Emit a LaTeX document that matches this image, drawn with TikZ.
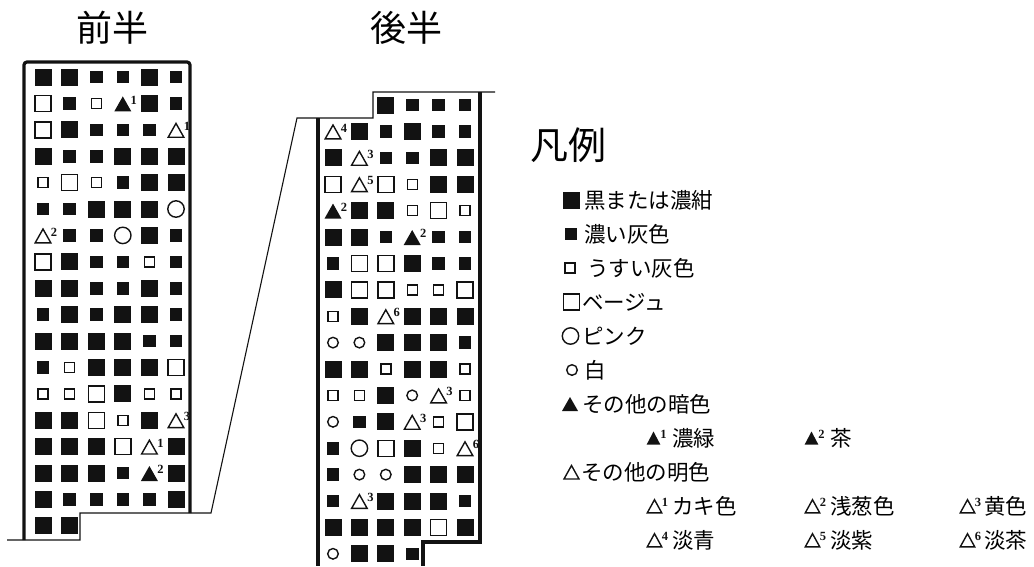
\documentclass[tikz,border=0pt]{standalone}
\usepackage{fontspec}
\setmainfont{Liberation Serif}
\newfontfamily\jpfont{Noto Sans CJK JP}
\definecolor{ink}{gray}{0.07}
\tikzset{
  heavy/.style={draw=ink, line width=3.2pt},
  fine/.style={draw=ink, line width=1.1pt},
  openmark/.style={draw=ink, line width=1.4pt},
  head/.style={font=\jpfont\fontsize{36}{36}\selectfont, inner sep=0pt},
  legtext/.style={font=\jpfont\fontsize{21.5}{22}\selectfont, anchor=west, inner sep=0pt},
  supnum/.style={font=\fontsize{12.5}{13}\selectfont\bfseries, inner sep=0pt, text=ink},
}
% cell drawing macros: #1 x, #2 y, #3 name
\newcommand\cellN[3]{}
\newcommand\cellL[3]{\fill[ink] (#1-8.5,#2-8.5) rectangle (#1+8.5,#2+8.5);}
\newcommand\cellS[3]{\fill[ink] (#1-6.3,#2-6.3) rectangle (#1+6.3,#2+6.3);}
\newcommand\cello[3]{\draw[openmark] (#1-5,#2-5) rectangle (#1+5,#2+5);}
\newcommand\cellB[3]{\draw[openmark] (#1-8,#2-8) rectangle (#1+8,#2+8);}
\newcommand\cellP[3]{\draw[openmark] (#1,#2) circle (8.2pt);}
\newcommand\cellW[3]{\draw[openmark] (#1,#2) circle (5.3pt);}
\newcommand\dtri[4]{\fill[ink] (#1-8.5,#2+8) -- (#1+8.5,#2+8) -- (#1,#2-7) -- cycle;
  \node[supnum] (#3) at (#1+11,#2-3.5) {#4};}
\newcommand\utri[4]{\draw[openmark] (#1-7.8,#2+7.4) -- (#1+7.8,#2+7.4) -- (#1,#2-6.4) -- cycle;
  \node[supnum] (#3) at (#1+11,#2-3.5) {#4};}
\expandafter\newcommand\csname cellT1\endcsname[3]{\dtri{#1}{#2}{#3}{1}}
\expandafter\newcommand\csname cellT2\endcsname[3]{\dtri{#1}{#2}{#3}{2}}
\expandafter\newcommand\csname cellU1\endcsname[3]{\utri{#1}{#2}{#3}{1}}
\expandafter\newcommand\csname cellU2\endcsname[3]{\utri{#1}{#2}{#3}{2}}
\expandafter\newcommand\csname cellU3\endcsname[3]{\utri{#1}{#2}{#3}{3}}
\expandafter\newcommand\csname cellU4\endcsname[3]{\utri{#1}{#2}{#3}{4}}
\expandafter\newcommand\csname cellU5\endcsname[3]{\utri{#1}{#2}{#3}{5}}
\expandafter\newcommand\csname cellU6\endcsname[3]{\utri{#1}{#2}{#3}{6}}
% small legend triangles
\newcommand\legdtri[4]{\fill[ink] (#1-6.8,#2+6.5) -- (#1+6.8,#2+6.5) -- (#1,#2-6.5) -- cycle;
  \node[supnum] (#3) at (#1+10,#2-4) {#4};}
\newcommand\legutri[4]{\draw[openmark] (#1-7.2,#2+6.8) -- (#1+7.2,#2+6.8) -- (#1,#2-6.3) -- cycle;
  \node[supnum] (#3) at (#1+10.5,#2-4) {#4};}

\begin{document}
\begin{tikzpicture}[x=1pt,y=-1pt]
\useasboundingbox (0,0) rectangle (1034,566);

% headings
\node[head] (h1) at (112,28) {前半};
\node[head] (h2) at (406,28) {後半};

% outlines
\draw[heavy, rounded corners=3pt] (24,540) -- (24,62) -- (190,62) -- (190,513);
\draw[fine] (7,540) -- (80,540) -- (80,513) -- (211,513) -- (297,118) -- (373,118) -- (373,92) -- (495,92);
\draw[heavy] (318,118) -- (318,566);
\draw[heavy] (480,92) -- (480,542) -- (423,542) -- (423,566);

% left panel (前半)
\foreach \row [count=\r] in {
{L,L,S,S,L,S},
{B,S,o,T1,L,S},
{B,L,S,S,S,U1},
{L,S,S,L,L,L},
{o,B,o,S,L,L},
{S,S,L,L,L,P},
{U2,S,S,P,L,S},
{B,L,S,S,o,S},
{L,L,S,S,L,S},
{S,L,S,L,L,S},
{L,L,L,L,S,S},
{S,o,L,L,L,B},
{o,o,B,L,o,o},
{L,L,B,o,L,U3},
{L,L,L,B,U1,L},
{L,L,L,S,T2,L},
{L,S,S,S,S,L},
{L,L}}{
  \foreach \code [count=\i] in \row {
    \pgfmathsetmacro\cx{43+26.6*(\i-1)}
    \pgfmathsetmacro\cy{77+26.4*(\r-1)}
    \csname cell\code\endcsname{\cx}{\cy}{a\r-\i}
  }
}

% right panel (後半)
\foreach \row [count=\r] in {
{N,N,L,S,S,S},
{U4,L,S,L,S,S},
{L,U3,S,S,L,L},
{B,U5,B,o,L,L},
{T2,L,L,o,B,o},
{L,L,S,T2,S,S},
{S,B,B,L,S,S},
{L,B,B,o,o,B},
{o,L,U6,L,L,L},
{W,W,L,L,L,S},
{L,L,o,L,L,o},
{o,o,L,W,U3,o},
{W,S,L,U3,o,B},
{S,P,B,L,o,U6},
{S,W,W,L,L,L},
{S,U3,L,L,L,S},
{L,L,L,L,B,L},
{W,L,L,S}}{
  \foreach \code [count=\i] in \row {
    \pgfmathsetmacro\cx{333+26.4*(\i-1)}
    \pgfmathsetmacro\cy{105+26.4*(\r-1)}
    \csname cell\code\endcsname{\cx}{\cy}{b\r-\i}
  }
}

% legend
\node[head, font=\jpfont\fontsize{38}{38}\selectfont] (lgh) at (568,145) {凡例};
\cellL{571.5}{200}{}
\node[legtext] (lg1) at (584,200) {黒または濃紺};
\cellS{571}{234}{}
\node[legtext] (lg2) at (584,234) {濃い灰色};
\cello{570}{268}{}
\node[legtext] (lg3) at (587,268) {うすい灰色};
\cellB{571.5}{302}{}
\node[legtext] (lg4) at (582,302) {ベージュ};
\cellP{570.5}{336}{}
\node[legtext] (lg5) at (582,336) {ピンク};
\cellW{572}{370}{}
\node[legtext] (lg6) at (584,370) {白};
\fill[ink] (562,411) -- (578,411) -- (570,397) -- cycle;
\node[legtext] (lg7) at (582,404) {その他の暗色};
\legdtri{653.5}{438}{ld1}{1}
\node[legtext] (lg8) at (672,438) {濃緑};
\legdtri{811.5}{438}{ld2}{2}
\node[legtext] (lg9) at (830,438) {茶};
\draw[openmark] (564,479) -- (579,479) -- (571.5,465.5) -- cycle;
\node[legtext] (lg10) at (581,472) {その他の明色};
\legutri{654.5}{506}{lu1}{1}
\node[legtext] (lg11) at (672,506) {カキ色};
\legutri{812.5}{506}{lu2}{2}
\node[legtext] (lg12) at (830,506) {浅葱色};
\legutri{967.5}{506}{lu3}{3}
\node[legtext] (lg13) at (984,506) {黄色};
\legutri{654.5}{540}{lu4}{4}
\node[legtext] (lg14) at (672,540) {淡青};
\legutri{812.5}{540}{lu5}{5}
\node[legtext] (lg15) at (830,540) {淡紫};
\legutri{967.5}{540}{lu6}{6}
\node[legtext] (lg16) at (984,540) {淡茶};
\end{tikzpicture}
\end{document}
